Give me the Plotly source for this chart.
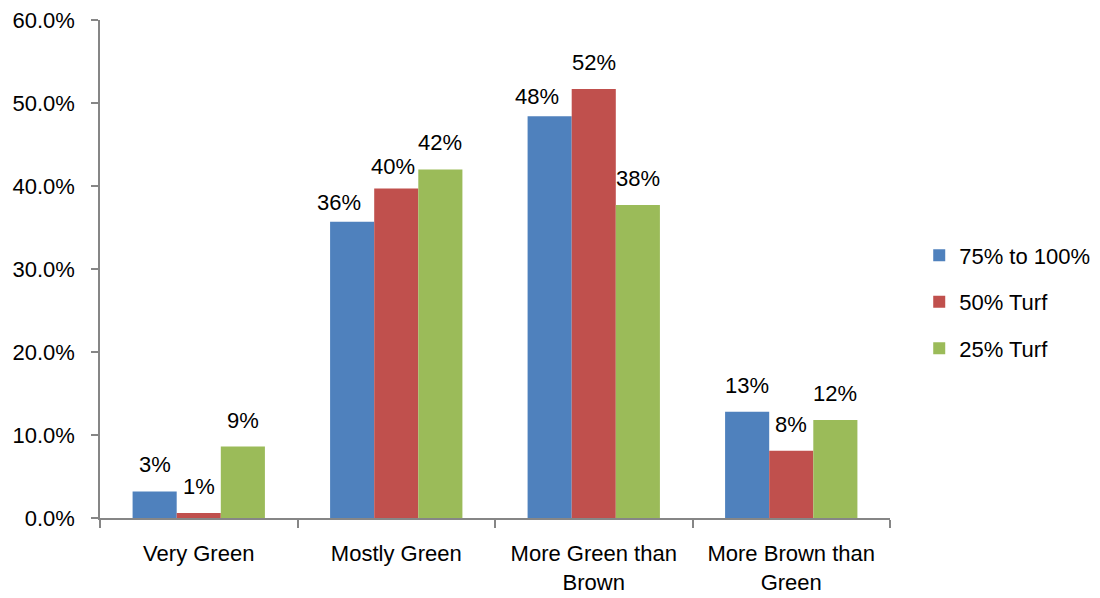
import plotly.graph_objects as go

# Survey responses: how green the lawn looked, by share of yard in turf
categories = ["Very Green", "Mostly Green", "More Green than<br>Brown", "More Brown than<br>Green"]
series_names = ["75% to 100%", "50% Turf", "25% Turf"]
pct_75_100 = [3.2, 35.7, 48.4, 12.8]
pct_50 = [0.6, 39.7, 51.7, 8.1]
pct_25 = [8.6, 42.0, 37.7, 11.8]
colors = ["#4F81BD", "#C0504D", "#9BBB59"]
y_ticks = [0, 10, 20, 30, 40, 50, 60]
y_tick_text = [f"{v:.1f}%" for v in y_ticks]

FONT = "Liberation Sans"
SIZE = 22
BARGAP = 0.33
PLOT_W = 1100 - 100 - 210

# Hand-placed label nudges (px) where neighbouring labels crowd each other:
# (series index, category index) -> (dx, dy)
label_nudge = {(0, 1): (-13, -7), (1, 1): (-3, -5), (0, 2): (-13, -7)}

fig = go.Figure()
all_series = [pct_75_100, pct_50, pct_25]
for name, vals, col in zip(series_names, all_series, colors):
    fig.add_trace(go.Bar(
        x=categories, y=vals, name=name, legendgroup=name,
        marker=dict(color=col, line=dict(width=0)),
    ))

# Value labels above each bar, shifted to the bar's slot in its group
bar_px = PLOT_W / len(categories) * (1 - BARGAP) / len(all_series)
for i, vals in enumerate(all_series):
    shift = (i - (len(all_series) - 1) / 2) * bar_px
    for j, (cat, v) in enumerate(zip(categories, vals)):
        dx, dy = label_nudge.get((i, j), (0, 0))
        fig.add_annotation(
            x=cat, y=v, text=f"{v:.0f}%", showarrow=False,
            xanchor="center", yanchor="bottom",
            xshift=shift + dx, yshift=12 + dy,
            font=dict(family=FONT, size=SIZE, color="#000000"),
        )

axis_color = "#868686"
fig.update_layout(
    width=1100, height=598,
    margin=dict(l=100, r=210, t=20, b=80, autoexpand=False),
    paper_bgcolor="white", plot_bgcolor="white",
    barmode="group", bargap=BARGAP, bargroupgap=0,
    font=dict(family=FONT, size=SIZE, color="#000000"),
    showlegend=True,
    legend=dict(
        x=1.037, y=0.434, xanchor="left", yanchor="middle",
        font=dict(family=FONT, size=SIZE), tracegroupgap=15,
        itemwidth=30,
    ),
    xaxis=dict(
        showline=True, linecolor=axis_color, linewidth=1.5,
        ticks="outside", ticklen=8, tickcolor=axis_color, tickwidth=1.5,
        tickson="boundaries", showgrid=False, ticklabelstandoff=15,
        tickfont=dict(family=FONT, size=SIZE), automargin=False,
    ),
    yaxis=dict(
        range=[0, 60], tickmode="array", tickvals=y_ticks, ticktext=y_tick_text,
        showline=True, linecolor=axis_color, linewidth=1.5,
        ticks="outside", ticklen=7, tickcolor=axis_color, tickwidth=1.5,
        showgrid=False, zeroline=False, ticklabelstandoff=12,
        tickfont=dict(family=FONT, size=SIZE), automargin=False,
    ),
)

fig.write_html("out.html")
